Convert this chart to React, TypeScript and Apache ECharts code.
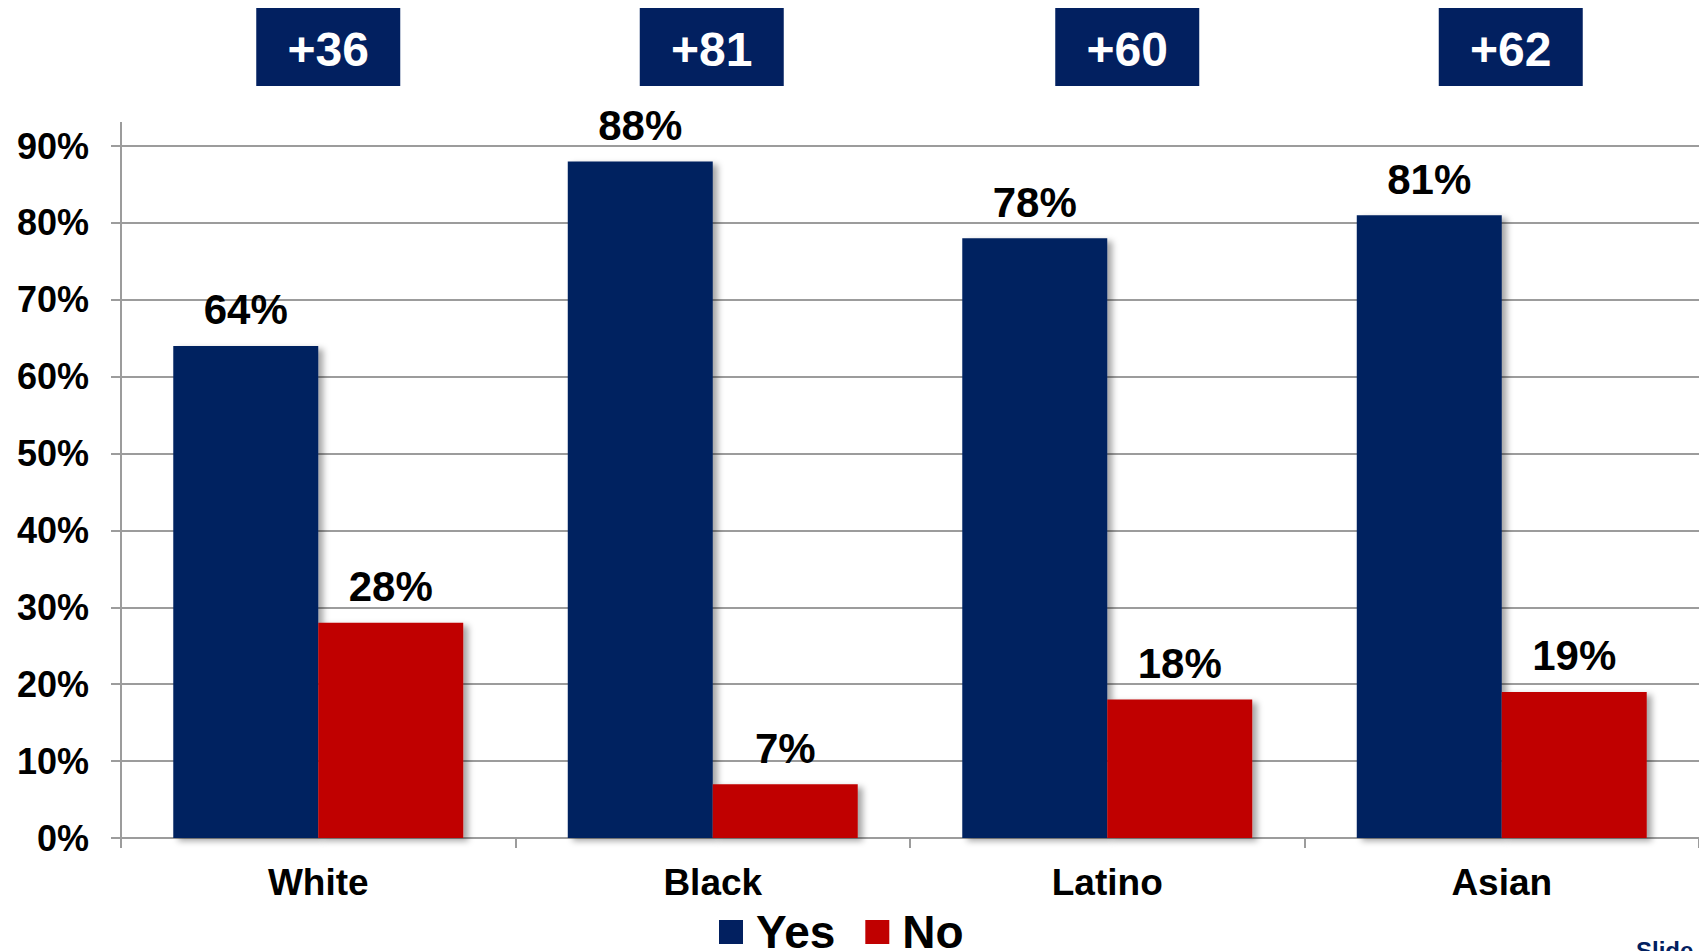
import React, { useEffect, useRef } from "react";
import * as echarts from "echarts";

const categories = ["White", "Black", "Latino", "Asian"];
const yesValues = [64, 88, 78, 81];
const noValues = [28, 7, 18, 19];
const seriesNames = ["Yes", "No"];
const yMax = 90;
const yInterval = 10;

// layout constants (not data)
const boxOffsets = [10, -1, 20, 9];
const NAVY = "#022060";
const RED = "#C00000";
const GRID = "#9c9c9c";
const FONT = '"Liberation Sans", Arial, sans-serif';

export default function App() {
  const ref = useRef<HTMLDivElement>(null);
  useEffect(() => {
    if (!ref.current) return;
    const chart = echarts.init(ref.current, null, { renderer: "svg" });
    const shadow = {
      shadowColor: "rgba(0,0,0,0.35)",
      shadowBlur: 6,
      shadowOffsetX: 5,
      shadowOffsetY: 3,
    };
    const label = {
      show: true,
      position: "top",
      distance: 15,
      formatter: "{c}%",
      fontFamily: FONT,
      fontWeight: "bold",
      fontSize: 42,
      color: "#000",
    };
    chart.setOption({
      animation: false,
      backgroundColor: "#ffffff",
      textStyle: { fontFamily: FONT },
      grid: { left: 121, right: 0, top: 146, bottom: 113, containLabel: false },
      legend: {
        data: seriesNames,
        left: 714,
        top: 904,
        icon: "rect",
        itemWidth: 24,
        itemHeight: 24,
        itemGap: 30,
        textStyle: {
          fontFamily: FONT,
          fontWeight: "bold",
          fontSize: 46,
          color: "#000",
          padding: [0, 0, 0, 8],
        },
      },
      xAxis: {
        type: "category",
        data: categories,
        axisLine: { show: true, lineStyle: { color: GRID, width: 2 } },
        axisTick: { show: true, length: 10, lineStyle: { color: GRID, width: 2 } },
        axisLabel: {
          margin: 26,
          fontFamily: FONT,
          fontWeight: "bold",
          fontSize: 37,
          color: "#000",
        },
      },
      yAxis: {
        type: "value",
        min: 0,
        max: yMax,
        interval: yInterval,
        axisLine: { show: true, lineStyle: { color: GRID, width: 2 } },
        axisTick: { show: true, length: 10, lineStyle: { color: GRID, width: 2 } },
        splitLine: { show: true, lineStyle: { color: GRID, width: 2 } },
        axisLabel: {
          formatter: "{value}%",
          margin: 32,
          fontFamily: FONT,
          fontWeight: "bold",
          fontSize: 36,
          color: "#000",
        },
      },
      series: [
        {
          name: seriesNames[0],
          type: "bar",
          data: yesValues,
          barGap: "0%",
          barCategoryGap: "26.5%",
          itemStyle: { color: NAVY, ...shadow },
          label,
        },
        {
          name: seriesNames[1],
          type: "bar",
          data: noValues,
          barGap: "0%",
          barCategoryGap: "26.5%",
          itemStyle: { color: RED, ...shadow },
          label,
        },
      ],
    });

    const topY = chart.convertToPixel({ yAxisIndex: 0 }, yMax) as number;
    const boxes = categories.map((c, i) => {
      const cx = (chart.convertToPixel({ xAxisIndex: 0 }, c) as number) + boxOffsets[i];
      const diff = yesValues[i] - noValues[i];
      return {
        type: "group",
        children: [
          {
            type: "rect",
            shape: { x: cx - 72, y: 8, width: 144, height: 78 },
            style: { fill: NAVY },
          },
          {
            type: "text",
            x: cx,
            y: 49,
            style: {
              text: "+" + diff,
              align: "center",
              verticalAlign: "middle",
              fill: "#ffffff",
              font: `bold 48px ${FONT}`,
            },
          },
        ],
      };
    });
    chart.setOption({
      graphic: [
        ...boxes,
        {
          type: "line",
          shape: { x1: 121, y1: topY - 24, x2: 121, y2: topY },
          style: { stroke: GRID, lineWidth: 2 },
        },
        {
          type: "text",
          x: 1636,
          y: 938,
          style: {
            text: "Slide",
            fill: NAVY,
            font: `bold 24px ${FONT}`,
          },
        },
      ],
    });
    return () => chart.dispose();
  }, []);
  return (
    <div
      ref={ref}
      style={{ position: "fixed", left: 0, top: 0, width: 1699, height: 951 }}
    />
  );
}
